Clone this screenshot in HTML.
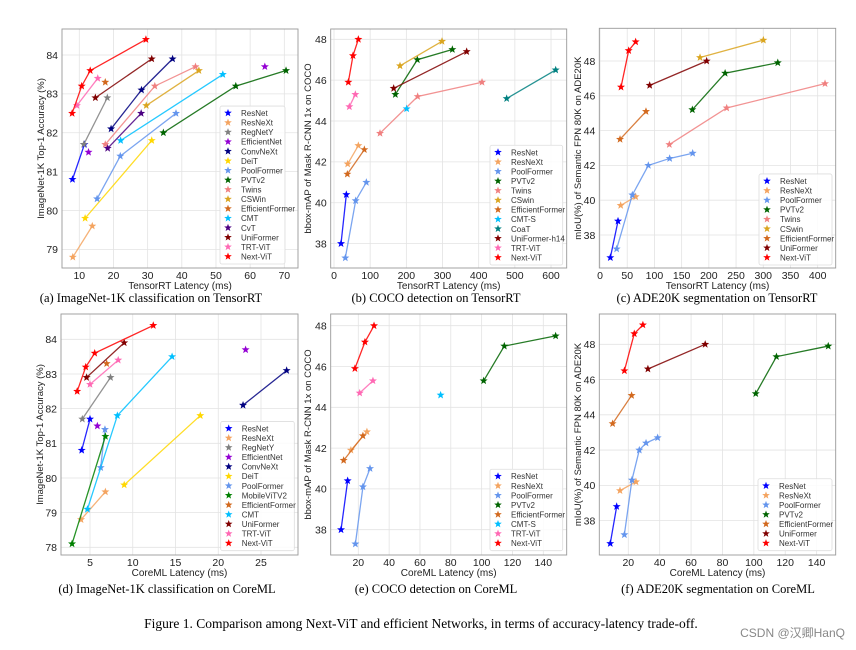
<!DOCTYPE html>
<html><head><meta charset="utf-8">
<style>
body{margin:0;background:#fff;}
svg{display:block;font-family:"Liberation Sans","DejaVu Sans",sans-serif;}
.cap{font-family:"Liberation Serif",serif;}
</style></head>
<body>
<svg id="fig" width="856" height="650" viewBox="0 0 856 650" xmlns="http://www.w3.org/2000/svg">
<text class="cap" x="151" y="302" font-size="12.5" text-anchor="middle">(a) ImageNet-1K classification on TensorRT</text>
<text class="cap" x="436" y="302" font-size="12.5" text-anchor="middle">(b) COCO detection on TensorRT</text>
<text class="cap" x="717" y="302" font-size="12.5" text-anchor="middle">(c) ADE20K segmentation on TensorRT</text>
<text class="cap" x="167" y="593" font-size="12.5" text-anchor="middle">(d) ImageNet-1K classification on CoreML</text>
<text class="cap" x="436" y="593" font-size="12.5" text-anchor="middle">(e) COCO detection on CoreML</text>
<text class="cap" x="718" y="593" font-size="12.5" text-anchor="middle">(f) ADE20K segmentation on CoreML</text>
<text class="cap" x="421" y="628" font-size="13.5" text-anchor="middle">Figure 1. Comparison among Next-ViT and efficient Networks, in terms of accuracy-latency trade-off.</text>
<text x="845" y="637" font-size="12" fill="#888" text-anchor="end" font-family="Liberation Sans, Noto Sans CJK SC, sans-serif">CSDN @汉卿HanQ</text>
</svg>
<script>
// ---- colors per model name ----
const colorOf = {"ResNet":"#0000ff","ResNeXt":"#f4a460","RegNetY":"#808080","EfficientNet":"#9400d3","ConvNeXt":"#000080","DeiT":"#ffd700","PoolFormer":"#6495ed","PVTv2":"#006400","Twins":"#f08080","CSWin":"#daa520","CSwin":"#daa520","EfficientFormer":"#d2691e","CMT":"#00bfff","CMT-S":"#00bfff","CvT":"#4b0082","UniFormer":"#800000","UniFormer-h14":"#800000","TRT-ViT":"#ff69b4","Next-ViT":"#ff0000","CoaT":"#008080","MobileViTV2":"#008000"};

// ---- (a) ImageNet TensorRT ----
const aNames = ["ResNet","ResNeXt","RegNetY","EfficientNet","ConvNeXt","DeiT","PoolFormer","PVTv2","Twins","CSWin","EfficientFormer","CMT","CvT","UniFormer","TRT-ViT","Next-ViT"];
const aLat = [[8,11.5],[8.1,13.8],[11.3,18.2],[12.7,64.3],[19.3,28.2,37.3],[11.7,31.2],[15.2,22,38.3],[34.6,55.8,70.5],[17.6,32.1,44],[29.6,45],[17.6],[22.1,52],[18.3,28.1],[14.7,31.2],[9.3,15.4],[7.9,10.7,13.2,29.5]];
const aAcc = [[80.8,81.7],[78.8,79.6],[81.7,82.9],[81.5,83.7],[82.1,83.1,83.9],[79.8,81.8],[80.3,81.4,82.5],[82.0,83.2,83.6],[81.7,83.2,83.7],[82.7,83.6],[83.3],[81.8,83.5],[81.6,82.5],[82.9,83.9],[82.7,83.4],[82.5,83.2,83.6,84.4]];
const aNoLine = ["EfficientNet"];
const aXTicks = [10,20,30,40,50,60,70];
const aYTicks = [79,80,81,82,83,84];

// ---- (b) COCO TensorRT ----
const bNames = ["ResNet","ResNeXt","PoolFormer","PVTv2","Twins","CSwin","EfficientFormer","CMT-S","CoaT","UniFormer-h14","TRT-ViT","Next-ViT"];
const bLat = [[19.4,34.1],[37.8,67.3],[31.3,59.9,89.4],[169.6,230.4,327.2],[127.2,231.3,409.2],[182.5,298.6],[36.9,83.9],[200.9],[477.4,612.9],[165,366.8],[42.4,59],[39.6,52.5,67.3]];
const bMap = [[38.0,40.4],[41.9,42.8],[37.3,40.1,41.0],[45.3,47.0,47.5],[43.4,45.2,45.9],[46.7,47.9],[41.4,42.6],[44.6],[45.1,46.5],[45.6,47.4],[44.7,45.3],[45.9,47.2,48.0]];
const bXTicks = [0,100,200,300,400,500,600];
const bYTicks = [38,40,42,44,46,48];

// ---- (c) ADE20K TensorRT ----
const cNames = ["ResNet","ResNeXt","PoolFormer","PVTv2","Twins","CSwin","EfficientFormer","UniFormer","Next-ViT"];
const cLat = [[19,33.1],[38,65.5],[30.6,59.4,88.8,128,170.3],[169.7,229.9,326.7],[127.4,232.8,413.5],[183.8,300.2],[36.8,84.5],[91.3,196],[38.6,52.7,65.5]];
const cMiou = [[36.7,38.8],[39.7,40.2],[37.2,40.3,42.0,42.4,42.7],[45.2,47.3,47.9],[43.2,45.3,46.7],[48.2,49.2],[43.5,45.1],[46.6,48.0],[46.5,48.6,49.1]];
const cXTicks = [0,50,100,150,200,250,300,350,400];
const cYTicks = [38,40,42,44,46,48];

// ---- (d) ImageNet CoreML ----
const dNames = ["ResNet","ResNeXt","RegNetY","EfficientNet","ConvNeXt","DeiT","PoolFormer","MobileViTV2","EfficientFormer","CMT","UniFormer","TRT-ViT","Next-ViT"];
const dLat = [[4.03,5.0],[3.95,6.8],[4.1,7.4],[5.86,23.2],[22.9,28],[9.0,17.9],[6.25,6.75],[2.9,6.8],[6.95],[4.7,8.2,14.6],[4.6,9.0],[5.0,8.3],[3.5,4.5,5.55,12.4]];
const dAcc = [[80.8,81.7],[78.8,79.6],[81.7,82.9],[81.5,83.7],[82.1,83.1],[79.8,81.8],[80.3,81.4],[78.1,81.2],[83.3],[79.1,81.8,83.5],[82.9,83.9],[82.7,83.4],[82.5,83.2,83.6,84.4]];
const dXTicks = [5,10,15,20,25];
const dYTicks = [78,79,80,81,82,83,84];

// ---- (e) COCO CoreML ----
const eNames = ["ResNet","ResNeXt","PoolFormer","PVTv2","EfficientFormer","CMT-S","TRT-ViT","Next-ViT"];
const eLat = [[8.8,13.1],[15.2,25.6],[18.1,23,27.6],[101.3,114.7,148],[10.5,23],[73.4],[20.9,29.5],[17.8,24.3,30.2]];
const eMap = [[38.0,40.4],[41.9,42.8],[37.3,40.1,41.0],[45.3,47.0,47.5],[41.4,42.6],[44.6],[44.7,45.3],[45.9,47.2,48.0]];
const eXTicks = [20,40,60,80,100,120,140];
const eYTicks = [38,40,42,44,46,48];

// ---- (f) ADE20K CoreML ----
const fNames = ["ResNet","ResNeXt","PoolFormer","PVTv2","EfficientFormer","UniFormer","Next-ViT"];
const fLat = [[8.5,12.6],[14.7,24.9],[17.5,22.3,27,31.3,38.7],[101.2,114.4,147.4],[10,22.1],[32.5,69],[17.5,23.8,29.3]];
const fMiou = [[36.7,38.8],[39.7,40.2],[37.2,40.3,42.0,42.4,42.7],[45.2,47.3,47.9],[43.5,45.1],[46.6,48.0],[46.5,48.6,49.1]];
const fXTicks = [20,40,60,80,100,120,140];
const fYTicks = [38,40,42,44,46,48];

const NS = "http://www.w3.org/2000/svg";
const fig = document.getElementById('fig');
function mk(tag, attrs, parent){
  const e = document.createElementNS(NS, tag);
  for (const k in attrs) e.setAttribute(k, attrs[k]);
  (parent||fig).appendChild(e);
  return e;
}
function starPts(cx, cy, r){
  let p = [];
  for (let i=0;i<10;i++){
    const rr = i%2===0 ? r : r*0.42;
    const a = -Math.PI/2 + i*Math.PI/5;
    p.push((cx+rr*Math.cos(a)).toFixed(2)+","+(cy+rr*Math.sin(a)).toFixed(2));
  }
  return p.join(" ");
}

function panel(cfg){
  const g = mk('g', {});
  
  
  const sx = v => cfg.x0px + (v - cfg.x0v) * cfg.xs;
  const sy = v => cfg.y0px - (v - cfg.y0v) * cfg.ys;
  const B = cfg.box;
  // grid
  cfg.xt.forEach(t => {
    const l = mk('line', {x1:sx(t), x2:sx(t), y1:B[1], y2:B[3], stroke:'#e3e3e3', 'stroke-width':0.8}, g);
    
    
    const tx = mk('text', {x:sx(t), y:B[3]+11, 'font-size':10.5, 'text-anchor':'middle', fill:'#222'}, g);
    tx.textContent = t;
    
    
  });
  cfg.yt.forEach(t => {
    const l = mk('line', {x1:B[0], x2:B[2], y1:sy(t), y2:sy(t), stroke:'#e3e3e3', 'stroke-width':0.8}, g);
    
    
    const tx = mk('text', {x:B[0]-4, y:sy(t)+3.8, 'font-size':10.5, 'text-anchor':'end', fill:'#222'}, g);
    tx.textContent = t;
    
    
  });
  const frame = mk('rect', {x:B[0], y:B[1], width:B[2]-B[0], height:B[3]-B[1], fill:'none', stroke:'#999', 'stroke-width':0.9}, g);
  
  
  // labels
  const xl = mk('text', {x:(B[0]+B[2])/2, y:B[3]+21, 'font-size':10, 'text-anchor':'middle', fill:'#222'}, g);
  xl.textContent = cfg.xlabel;
  
  
  const ylx = cfg.ylx, yly = (B[1]+B[3])/2;
  const yl = mk('text', {x:ylx, y:yly, 'font-size':9.5, 'text-anchor':'middle', fill:'#222', transform:`rotate(-90 ${ylx} ${yly})`}, g);
  yl.textContent = cfg.ylabel;
  
  
  // series
  cfg.names.forEach((n, i) => {
    const c = colorOf[n];
    const xs = cfg.xv[i], ys = cfg.yv[i];
    if (xs.length > 1 && !(cfg.noLine||[]).includes(n)) {
      const pl = mk('polyline', {points: xs.map((x,j)=>sx(x)+","+sy(ys[j])).join(" "), fill:'none', stroke:c, 'stroke-width':1.3, 'stroke-opacity':0.85}, g);
      
      
    }
    xs.forEach((x, j) => {
      const s = mk('polygon', {points: starPts(sx(x), sy(ys[j]), 4.2), fill:c}, g);
      
      
    });
  });
  // legend
  const L = cfg.leg, rowH = 9.56, n = cfg.names.length;
  const top = L[2] - n*rowH - 5;
  const lg = mk('rect', {x:L[0], y:top, width:L[1]-L[0], height:L[2]-top, fill:'#fff', 'fill-opacity':0.85, stroke:'#ddd', 'stroke-width':0.8, rx:2}, g);
  
  
  cfg.names.forEach((nm, i) => {
    const yy = top + 7 + i*rowH;
    const s = mk('polygon', {points: starPts(L[0]+8, yy, 4), fill:colorOf[nm]}, g);
    
    
    const t = mk('text', {x:L[0]+21, y:yy+3, 'font-size':8, fill:'#333'}, g);
    t.textContent = nm;
    
    
  });
}

panel({id:'a', box:[62,29,298,268], x0v:10, x0px:79.3, xs:3.417, y0v:84, y0px:55, ys:38.87,
  xt:aXTicks, yt:aYTicks, names:aNames, xv:aLat, yv:aAcc, noLine:aNoLine, leg:[220,285,264],
  xlabel:'TensorRT Latency (ms)', ylabel:'ImageNet-1K Top-1 Accuracy (%)', ylx:44});
panel({id:'b', box:[330.7,29,566.7,268], x0v:0, x0px:334, xs:0.3617, y0v:48, y0px:39.3, ys:20.43,
  xt:bXTicks, yt:bYTicks, names:bNames, xv:bLat, yv:bMap, leg:[490,562.7,265],
  xlabel:'TensorRT Latency (ms)', ylabel:'bbox-mAP of Mask R-CNN 1x on COCO', ylx:311});
panel({id:'c', box:[599.3,28.3,835.7,268], x0v:0, x0px:600, xs:0.5442, y0v:48, y0px:61, ys:17.4,
  xt:cXTicks, yt:cYTicks, names:cNames, xv:cLat, yv:cMiou, leg:[759,832,265],
  xlabel:'TensorRT Latency (ms)', ylabel:'mIoU(%) of Semantic FPN 80K on ADE20K', ylx:581});
panel({id:'d', box:[61,314,298,555], x0v:5, x0px:90, xs:8.55, y0v:84, y0px:339.3, ys:34.67,
  xt:dXTicks, yt:dYTicks, names:dNames, xv:dLat, yv:dAcc, noLine:["EfficientNet"], leg:[220.7,294.3,550.7],
  xlabel:'CoreML Latency (ms)', ylabel:'ImageNet-1K Top-1 Accuracy (%)', ylx:43});
panel({id:'e', box:[330.7,314,566.7,555], x0v:20, x0px:358.3, xs:1.5417, y0v:48, y0px:325.7, ys:20.4,
  xt:eXTicks, yt:eYTicks, names:eNames, xv:eLat, yv:eMap, leg:[490,562.7,550.7],
  xlabel:'CoreML Latency (ms)', ylabel:'bbox-mAP of Mask R-CNN 1x on COCO', ylx:311});
panel({id:'f', box:[599.3,314,835.7,555], x0v:20, x0px:628.3, xs:1.5694, y0v:48, y0px:344.3, ys:17.63,
  xt:fXTicks, yt:fYTicks, names:fNames, xv:fLat, yv:fMiou, leg:[758,832,550.7],
  xlabel:'CoreML Latency (ms)', ylabel:'mIoU(%) of Semantic FPN 80K on ADE20K', ylx:581});
</script>
</body></html>
